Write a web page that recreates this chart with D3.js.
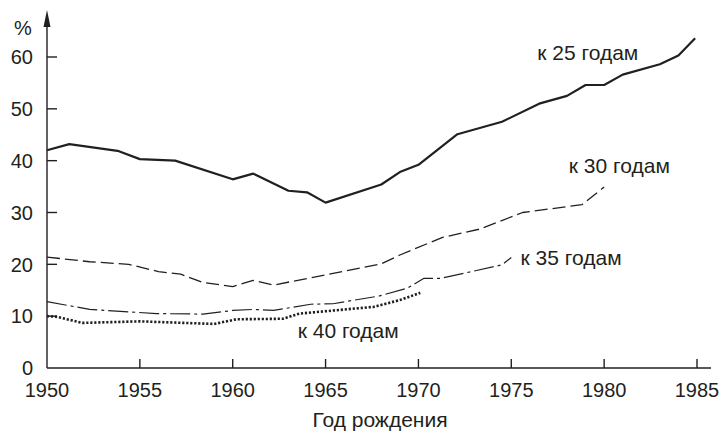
<!DOCTYPE html>
<head>
  <meta charset="utf-8">
  <script src="https://d3js.org/d3.v7.min.js"></script>
  <style>
    body { margin:0; background:#fff; }
    text {
      font-family: 'Liberation Sans', Arial, sans-serif;
      font-size: 20px;
      fill: #231f20;
    }
    .ru-label { font-size: 21px; }
    .axis-line { stroke: #231f20; stroke-width: 1.4; fill: none; }
    .series { fill: none; stroke: #231f20; stroke-linejoin: round; }
  </style>
</head>

<body>
  <script>
    // values
    var yearsAt25 = [1950, 1951.2, 1953.8, 1955, 1956.9, 1960, 1961.1, 1963, 1964, 1965, 1968, 1969, 1970, 1972.1, 1974.5, 1976.5, 1978, 1979, 1980, 1981, 1983, 1984, 1984.9];
    var valuesAt25 = [42.0, 43.2, 41.9, 40.3, 40.0, 36.4, 37.5, 34.2, 33.9, 31.9, 35.4, 37.8, 39.2, 45.1, 47.5, 51.0, 52.5, 54.6, 54.6, 56.6, 58.6, 60.3, 63.6];

    var yearsAt30 = [1950, 1952.3, 1954.4, 1956, 1957.2, 1958.4, 1960, 1961.1, 1962.2, 1968, 1969, 1971.3, 1973.3, 1975.6, 1978.8, 1980];
    var valuesAt30 = [21.4, 20.5, 20.0, 18.6, 18.1, 16.5, 15.7, 16.9, 16.0, 20.1, 21.8, 25.2, 26.8, 30.0, 31.5, 34.9];

    var yearsAt35 = [1950, 1952.3, 1955.9, 1958.4, 1960, 1961.1, 1962.2, 1964.2, 1965.4, 1967.9, 1969.4, 1970.3, 1971.2, 1974.5, 1975];
    var valuesAt35 = [12.8, 11.3, 10.5, 10.4, 11.1, 11.3, 11.1, 12.3, 12.4, 13.9, 15.4, 17.3, 17.3, 19.9, 21.3];

    var yearsAt40 = [1950, 1950.5, 1951.9, 1955, 1959, 1960.2, 1962.7, 1963.6, 1967.6, 1969, 1970.1];
    var valuesAt40 = [10.0, 9.9, 8.7, 9.0, 8.5, 9.4, 9.5, 10.5, 11.8, 13.1, 14.5];

    var seriesLabels = ["к 25 годам", "к 30 годам", "к 35 годам", "к 40 годам"];
    var xTicks = [1950, 1955, 1960, 1965, 1970, 1975, 1980, 1985];
    var yTicks = [0, 10, 20, 30, 40, 50, 60];
    var xTitle = "Год рождения";
    var yTitle = "%";

    var W = 725, H = 433;

    var svg = d3.select("body").append("svg")
      .attr("width", W)
      .attr("height", H);

    var x = d3.scaleLinear().domain([1950, 1985]).range([47, 697]);
    var y = d3.scaleLinear().domain([0, 60]).range([368, 57]);

    // axes
    svg.append("line").attr("class", "axis-line")
      .attr("x1", x(1950)).attr("x2", 711)
      .attr("y1", y(0)).attr("y2", y(0));
    svg.append("line").attr("class", "axis-line")
      .attr("x1", x(1950)).attr("x2", x(1950))
      .attr("y1", y(0)).attr("y2", 20);
    // arrow head
    svg.append("path")
      .attr("d", "M" + [x(1950), 10] + "L" + [x(1950) - 3.5, 27] + "L" + [x(1950) + 3.5, 27] + "Z")
      .style("fill", "#231f20");

    svg.append("g").selectAll("line")
      .data(yTicks.filter(d => d > 0))
      .enter().append("line")
        .attr("class", "axis-line")
        .attr("x1", x(1950)).attr("x2", x(1950) + 10)
        .attr("y1", d => y(d)).attr("y2", d => y(d));

    svg.append("g").selectAll("line")
      .data(xTicks.filter(d => d > 1950))
      .enter().append("line")
        .attr("class", "axis-line")
        .attr("x1", d => x(d)).attr("x2", d => x(d))
        .attr("y1", y(0)).attr("y2", y(0) - 9);

    svg.append("g").selectAll("text")
      .data(yTicks)
      .enter().append("text")
        .attr("x", 33)
        .attr("y", d => y(d))
        .attr("dy", "0.36em")
        .attr("text-anchor", "end")
        .text(d => d);

    svg.append("g").selectAll("text")
      .data(xTicks)
      .enter().append("text")
        .attr("x", d => x(d))
        .attr("y", 397)
        .attr("text-anchor", "middle")
        .text(d => d);

    svg.append("text")
      .attr("class", "ru-label")
      .attr("x", 380).attr("y", 427)
      .attr("text-anchor", "middle")
      .text(xTitle);

    svg.append("text")
      .attr("x", 14).attr("y", 35)
      .text(yTitle);

    // lines
    var line = d3.line()
      .x(d => x(d[0]))
      .y(d => y(d[1]));

    var series = [
      {years: yearsAt25, values: valuesAt25, width: 2.2, dash: null},
      {years: yearsAt30, values: valuesAt30, width: 1.3, dash: "13,5"},
      {years: yearsAt35, values: valuesAt35, width: 1.2, dash: "20,4,3,4"},
      {years: yearsAt40, values: valuesAt40, width: 2.6, dash: "2.2,1.8"}
    ];

    svg.append("g").selectAll("path")
      .data(series)
      .enter().append("path")
        .attr("class", "series")
        .attr("d", d => line(d.years.map((yr, i) => [yr, d.values[i]])))
        .style("stroke-width", d => d.width)
        .style("stroke-dasharray", d => d.dash);

    // series labels (anchored in data coordinates)
    var labelAt = [[1976.4, 59.4], [1978.1, 37.6], [1975.5, 19.9], [1963.5, 5.8]];
    svg.append("g").selectAll("text")
      .data(seriesLabels)
      .enter().append("text")
        .attr("class", "ru-label")
        .attr("x", (d, i) => x(labelAt[i][0]))
        .attr("y", (d, i) => y(labelAt[i][1]))
        .text(d => d);
  </script>
</body>
